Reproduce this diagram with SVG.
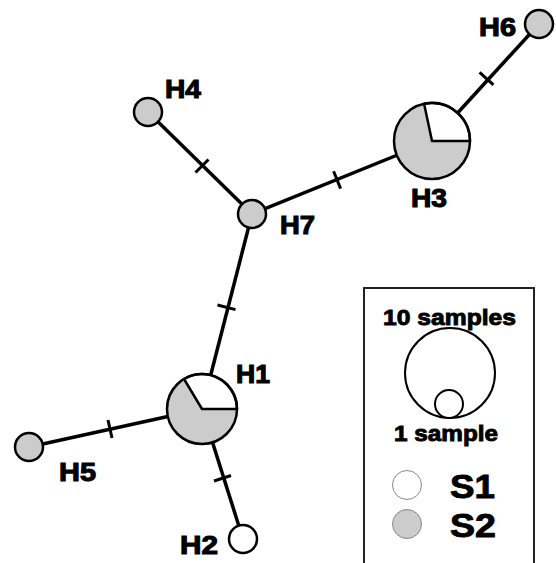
<svg xmlns="http://www.w3.org/2000/svg" width="556" height="563" viewBox="0 0 556 563">
<style>
.edge{stroke:#000;stroke-width:3.5;fill:none}
.tick{stroke:#000;stroke-width:3;fill:none}
.node{stroke:#000;stroke-width:2.5}
.g{fill:#cccccc}
.w{fill:#ffffff}
.lbl{font-family:"Liberation Sans",Arial,sans-serif;font-weight:bold;font-size:26px;fill:#000;stroke:#000;stroke-width:1.1}
.leg{font-family:"Liberation Sans",Arial,sans-serif;font-weight:bold;fill:#000;stroke:#000;stroke-width:0.9}
</style>
<rect width="556" height="563" fill="#fff"/>
<g id="connectors">
<line class="edge" x1="539" y1="24" x2="432" y2="141"/>
<line class="edge" x1="432" y1="141" x2="252" y2="214"/>
<line class="edge" x1="252" y1="214" x2="148" y2="112"/>
<line class="edge" x1="252" y1="214" x2="202" y2="409"/>
<line class="edge" x1="202" y1="409" x2="29" y2="447"/>
<line class="edge" x1="202" y1="409" x2="243" y2="539"/>
<line class="tick" x1="479.6" y1="72.3" x2="493.4" y2="84.9"/>
<line class="tick" x1="333.6" y1="171.3" x2="340.6" y2="188.6"/>
<line class="tick" x1="195.5" y1="172.5" x2="208.5" y2="159.5"/>
<line class="tick" x1="217.5" y1="305" x2="235.5" y2="309.6"/>
<line class="tick" x1="108" y1="420" x2="112" y2="438"/>
<line class="tick" x1="214" y1="481" x2="231" y2="475.5"/>
</g>
<g id="H6"><circle class="node g" cx="539" cy="24" r="14"/><text class="lbl" x="479" y="36" textLength="37" lengthAdjust="spacingAndGlyphs">H6</text></g>
<g id="H3">
<circle class="g" cx="432" cy="141" r="38"/>
<path class="w" d="M432,141 L470,141 A38,38 0 0 0 424.1,103.8 Z" stroke="#000" stroke-width="2.5" stroke-linejoin="round"/>
<circle class="node" fill="none" cx="432" cy="141" r="38"/>
<text class="lbl" x="411" y="207" textLength="36" lengthAdjust="spacingAndGlyphs">H3</text></g>
<g id="H4"><circle class="node g" cx="148" cy="112" r="14"/><text class="lbl" x="165" y="98" textLength="36" lengthAdjust="spacingAndGlyphs">H4</text></g>
<g id="H7"><circle class="node g" cx="252" cy="214" r="14"/><text class="lbl" x="280" y="234" textLength="35" lengthAdjust="spacingAndGlyphs">H7</text></g>
<g id="H1">
<circle class="g" cx="202" cy="409" r="35"/>
<path class="w" d="M202,409 L237,409 A35,35 0 0 0 184,379 Z" stroke="#000" stroke-width="2.5" stroke-linejoin="round"/>
<circle class="node" fill="none" cx="202" cy="409" r="35"/>
<text class="lbl" x="236" y="383" textLength="34" lengthAdjust="spacingAndGlyphs">H1</text></g>
<g id="H5"><circle class="node g" cx="29" cy="447" r="14"/><text class="lbl" x="59" y="481" textLength="37" lengthAdjust="spacingAndGlyphs">H5</text></g>
<g id="H2"><circle class="node w" cx="243" cy="539" r="14"/><text class="lbl" x="180" y="554" textLength="38" lengthAdjust="spacingAndGlyphs">H2</text></g>
<g id="legend">
<rect x="364" y="288" width="170" height="290" fill="none" stroke="#222" stroke-width="2"/>
<text class="leg" x="383" y="325" font-size="22" textLength="133" lengthAdjust="spacingAndGlyphs">10 samples</text>
<circle cx="450" cy="373" r="45" fill="none" stroke="#000" stroke-width="2"/>
<circle cx="449" cy="404" r="14" fill="#fff" stroke="#000" stroke-width="2"/>
<text class="leg" x="394" y="441" font-size="22" textLength="104" lengthAdjust="spacingAndGlyphs">1 sample</text>
<circle cx="407" cy="485" r="14.5" fill="#fff" stroke="#888" stroke-width="1"/>
<circle cx="407" cy="524" r="14.5" fill="#cccccc" stroke="#888" stroke-width="1"/>
<text class="leg" x="450" y="498" font-size="33" textLength="45" lengthAdjust="spacingAndGlyphs">S1</text>
<text class="leg" x="450" y="537" font-size="33" textLength="46" lengthAdjust="spacingAndGlyphs">S2</text>
</g>
</svg>
